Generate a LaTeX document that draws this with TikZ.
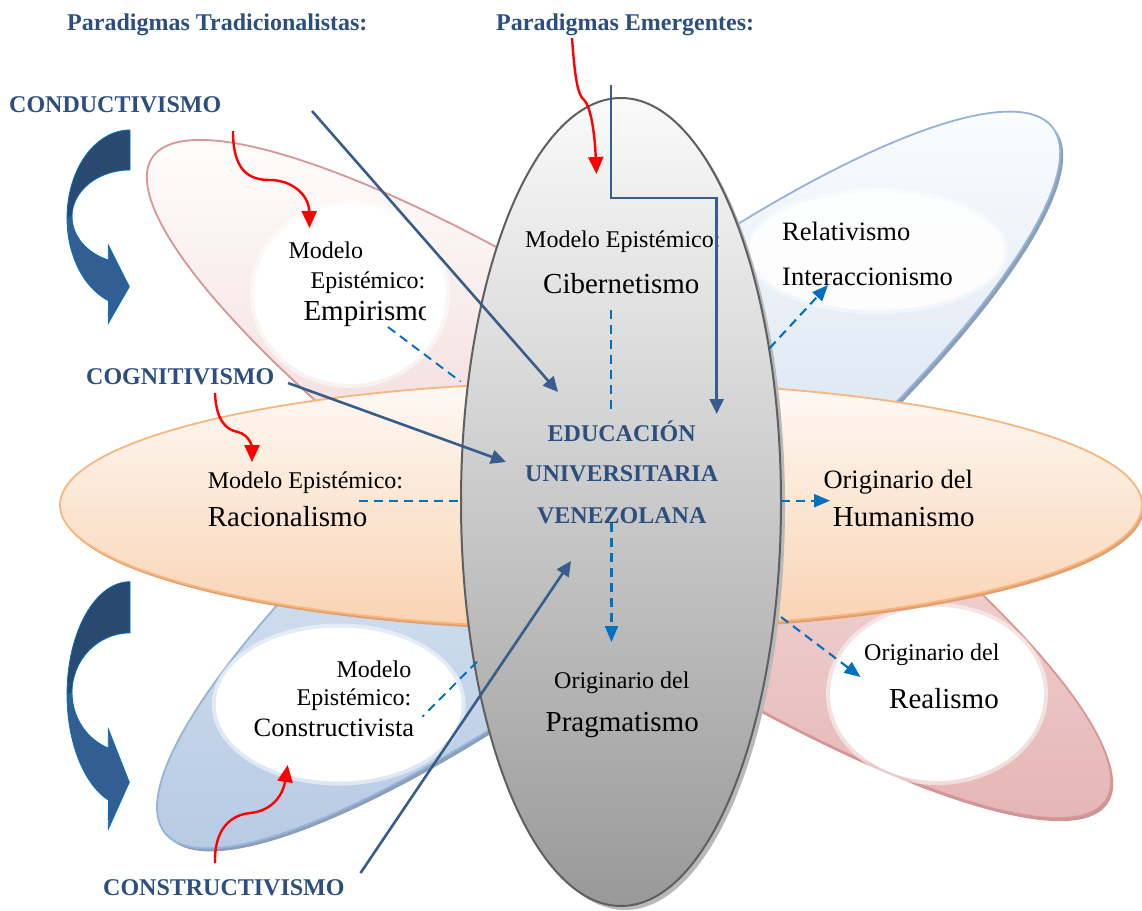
\documentclass[tikz,border=0pt]{standalone}
\usepackage{fontspec}
\setmainfont{Liberation Serif}
\usetikzlibrary{arrows.meta}
\definecolor{ttl}{RGB}{44,79,128}
\definecolor{barrow}{RGB}{56,93,140}
\definecolor{dblue}{RGB}{0,112,192}
\definecolor{cadark}{RGB}{42,73,112}
\definecolor{calight}{RGB}{51,94,145}
\definecolor{caline}{RGB}{0,112,192}
\definecolor{blshadow}{RGB}{140,158,186}
\definecolor{blline}{RGB}{149,179,215}
\definecolor{bltop}{RGB}{250,252,254}
\definecolor{blmid}{RGB}{228,236,246}
\definecolor{blbot}{RGB}{183,203,228}
\definecolor{pkshadow}{RGB}{200,150,150}
\definecolor{pkline}{RGB}{217,150,148}
\definecolor{pktop}{RGB}{255,253,253}
\definecolor{pkmid}{RGB}{246,229,229}
\definecolor{pkbot}{RGB}{229,182,181}
\definecolor{orshadow}{RGB}{226,160,112}
\definecolor{orline}{RGB}{247,182,124}
\definecolor{ortop}{RGB}{254,249,245}
\definecolor{orbot}{RGB}{249,211,178}
\definecolor{grshadow}{RGB}{185,185,185}
\definecolor{grline}{RGB}{95,95,95}
\definecolor{grtop}{RGB}{250,250,250}
\definecolor{grmid}{RGB}{218,218,218}
\definecolor{grbot}{RGB}{153,153,153}
\begin{document}
\begin{tikzpicture}[x=1pt,y=-1pt,
  ttlfont/.style={font=\fontsize{24}{28}\selectfont\bfseries, text=ttl, inner sep=0pt},
  txta/.style={font=\fontsize{24}{28}\selectfont, inner sep=0pt},
  txtb/.style={font=\fontsize{26.5}{30}\selectfont, inner sep=0pt},
  txtc/.style={font=\fontsize{29}{33}\selectfont, inner sep=0pt},
  solidarrow/.style={draw=barrow, line width=2.6pt, -{Triangle[length=15pt,width=14pt]}},
  redarrow/.style={draw=red, line width=2.4pt, -{Triangle[length=17pt,width=15pt]}},
  dasharrow/.style={draw=dblue, line width=2.1pt, dash pattern=on 9pt off 6pt, -{Triangle[length=16pt,width=13pt]}},
  dashline/.style={draw=dblue, line width=1.9pt, dash pattern=on 9pt off 6pt},
  bubble/.style={fill=white},
  cadarkband/.style={fill=cadark, draw=caline, line width=0.8pt},
  calightband/.style={fill=calight, draw=caline, line width=0.8pt}]
\useasboundingbox (0,0) rectangle (1142,910);
\fill[white] (0,0) rectangle (1142,910);

% ---------- blue tilted ellipse ----------
\fill[blshadow] plot[domain=0:360,samples=181,variable=\t]
  ({611.6+567*cos(\t)*cos(-38.5)-135*sin(\t)*sin(-38.5)},{483+567*cos(\t)*sin(-38.5)+135*sin(\t)*cos(-38.5)}) -- cycle;
\path[draw=blline, line width=1.8pt, top color=bltop, middle color=blmid, bottom color=blbot]
  plot[domain=0:360,samples=181,variable=\t]
  ({608.6+567*cos(\t)*cos(-38.5)-135*sin(\t)*sin(-38.5)},{480+567*cos(\t)*sin(-38.5)+135*sin(\t)*cos(-38.5)}) -- cycle;

% ---------- pink tilted ellipse ----------
\fill[pkshadow] plot[domain=0:360,samples=181,variable=\t]
  ({631+575*cos(\t)*cos(34)-130*sin(\t)*sin(34)},{482+575*cos(\t)*sin(34)+130*sin(\t)*cos(34)}) -- cycle;
\path[draw=pkline, line width=1.8pt, top color=pktop, middle color=pkmid, bottom color=pkbot]
  plot[domain=0:360,samples=181,variable=\t]
  ({629+575*cos(\t)*cos(34)-130*sin(\t)*sin(34)},{479+575*cos(\t)*sin(34)+130*sin(\t)*cos(34)}) -- cycle;

% ---------- white bubbles ----------
\fill[white, opacity=0.5] (350,294) ellipse [x radius=100, y radius=94];
\fill[bubble] (350,294) ellipse [x radius=96, y radius=90];
\fill[white, opacity=0.5] (338.7,704.5) ellipse [x radius=127, y radius=81];
\fill[bubble] (338.7,704.5) ellipse [x radius=123, y radius=77];
\fill[white, opacity=0.45] (877,251) ellipse [x radius=131, y radius=63];
\fill[white, opacity=0.85] (877,251) ellipse [x radius=127.5, y radius=59];
\fill[white, opacity=0.5] (937,694) ellipse [x radius=111, y radius=91];
\fill[bubble] (937,694) ellipse [x radius=107, y radius=87];

% ---------- orange horizontal ellipse ----------
\fill[orshadow] (603,508) ellipse [x radius=541, y radius=123];
\path[draw=orline, line width=1.8pt, top color=ortop, bottom color=orbot]
  (601,505) ellipse [x radius=541, y radius=123];

% ---------- central gray ellipse ----------
\fill[grshadow] (625,506) ellipse [x radius=160, y radius=404];
\path[draw=grline, line width=2pt, top color=grtop, middle color=grmid, bottom color=grbot]
  (621,502) ellipse [x radius=160, y radius=404];

% ---------- curved block arrows ----------
\begin{scope}[shift={(0,130)}]
  \path[cadarkband] (130,0) arc[start angle=-90, end angle=-180, x radius=63, y radius=88]
    -- (72,86.7) arc[start angle=180, end angle=270, x radius=58, y radius=46.7] -- cycle;
  \path[calightband] (67,88) arc[start angle=180, end angle=110, x radius=63, y radius=88]
    -- (108.3,193.3) -- (129.3,156.7) -- (108.3,115) -- (108.3,130)
    arc[start angle=112, end angle=180, x radius=58, y radius=46.7] -- cycle;
\end{scope}
\begin{scope}[shift={(0,581.7)}, yscale=1.28]
  \path[cadarkband] (130,0) arc[start angle=-90, end angle=-180, x radius=63, y radius=88]
    -- (72,86.7) arc[start angle=180, end angle=270, x radius=58, y radius=46.7] -- cycle;
  \path[calightband] (67,88) arc[start angle=180, end angle=110, x radius=63, y radius=88]
    -- (108.3,193.3) -- (129.3,156.7) -- (108.3,115) -- (108.3,130)
    arc[start angle=112, end angle=180, x radius=58, y radius=46.7] -- cycle;
\end{scope}

% ---------- texts ----------
\node[ttlfont, anchor=base west] (trad) at (67,30) {Paradigmas Tradicionalistas:};
\node[ttlfont, anchor=base west] (emer) at (496,30) {Paradigmas Emergentes:};
\node[ttlfont, anchor=base west] (cond) at (9,112) {CONDUCTIVISMO};
\node[ttlfont, anchor=base west] (cogn) at (86,384) {COGNITIVISMO};
\node[ttlfont, anchor=base west] (cons) at (103,895) {CONSTRUCTIVISMO};

\node[ttlfont, anchor=base] (edu1) at (621.7,441) {EDUCACIÓN};
\node[ttlfont, anchor=base] (edu2) at (621.7,481.7) {UNIVERSITARIA};
\node[ttlfont, anchor=base] (edu3) at (621.7,523.3) {VENEZOLANA};

\node[txta, anchor=base west] (cibm) at (525,247) {Modelo Epistémico:};
\node[txtc, anchor=base west] (cib) at (543,293) {Cibernetismo};

\node[txtb, anchor=base west] (rel) at (782,240) {Relativismo};
\node[txtb, anchor=base west] (inter) at (782,285.5) {Interaccionismo};

\node[txta, anchor=base west] (empm1) at (288.3,258.3) {Modelo};
\node[txta, anchor=base east] (empm2) at (425.5,288.3) {Epistémico:};
\begin{scope}
  \clip (250,290) rectangle (425.5,340);
  \node[txtc, anchor=base west] (emp) at (303.3,320.7) {Empirismo};
\end{scope}

\node[txta, anchor=base west] (racm) at (207.6,488.3) {Modelo Epistémico:};
\node[txtc, anchor=base west] (rac) at (207.6,526.7) {Racionalismo};

\node[txtb, anchor=base west] (humo) at (823.3,488) {Originario del};
\node[txtc, anchor=base west] (hum) at (832.7,526.7) {Humanismo};

\node[txta, anchor=base east] (conm1) at (411.5,677.7) {Modelo};
\node[txta, anchor=base east] (conm2) at (411.5,705.7) {Epistémico:};
\node[txtb, anchor=base east] (con) at (414.4,736.7) {Constructivista};

\node[txta, anchor=base west] (prago) at (554,688.3) {Originario del};
\node[txtc, anchor=base west] (prag) at (545.5,731.7) {Pragmatismo};

\node[txta, anchor=base west] (realo) at (864,660) {Originario del};
\node[txtc, anchor=base west] (real) at (889,708.3) {Realismo};

% ---------- connector end points ----------
\coordinate (r1s) at (233,131);  \coordinate (r1e) at (309.5,228);
\coordinate (r2s) at (572,38);   \coordinate (r2e) at (596.5,174);
\coordinate (r3s) at (215,393);  \coordinate (r3e) at (252,462);
\coordinate (r4s) at (215,863);  \coordinate (r4e) at (287.7,765);
\coordinate (b1s) at (312,111);  \coordinate (b1e) at (558,392);
\coordinate (b2s) at (288,383);  \coordinate (b2e) at (506,462);
\coordinate (b3s) at (360.5,873);\coordinate (b3e) at (571,561);
\coordinate (b4s) at (611,85);   \coordinate (b4e) at (716.7,414);
\coordinate (d1s) at (388,327);  \coordinate (d1e) at (460.7,381.7);
\coordinate (d2s) at (611,310);  \coordinate (d2e) at (611,414);
\coordinate (d3s) at (358.7,500.7); \coordinate (d3e) at (461.8,500.7);
\coordinate (d4s) at (781,500.7); \coordinate (d4e) at (830,500.7);
\coordinate (d5s) at (611.5,523); \coordinate (d5e) at (611.5,642);
\coordinate (d6s) at (781,617);  \coordinate (d6e) at (860.5,677);
\coordinate (d7s) at (769.5,348.3); \coordinate (d7e) at (828,285);
\coordinate (d8s) at (477,661.7); \coordinate (d8e) at (422.4,716.7);

% ---------- red curved arrows ----------
\draw[redarrow] (r1s) .. controls (233,170) and (248,180) .. (270,180)
  .. controls (292,180) and (309,195) .. (r1e);
\draw[redarrow] (r2s) .. controls (575,80) and (578,95) .. (584,100)
  .. controls (592,108) and (595,140) .. (r2e);
\draw[redarrow] (r3s) .. controls (216,420) and (226,430) .. (238,432)
  .. controls (250,435) and (252,448) .. (r3e);
\draw[redarrow] (r4s) .. controls (214,830) and (230,815) .. (250,813)
  .. controls (272,811) and (283,795) .. (r4e);

% ---------- blue solid arrows ----------
\draw[solidarrow] (b1s) -- (b1e);
\draw[solidarrow] (b2s) -- (b2e);
\draw[solidarrow] (b3s) -- (b3e);
\draw[solidarrow] (b4s) -- (611,198) -- (716.7,198) -- (b4e);

% ---------- dashed connectors ----------
\draw[dashline] (d1s) -- (d1e);
\draw[dashline] (d2s) -- (d2e);
\draw[dashline] (d3s) -- (d3e);
\draw[dasharrow] (d4s) -- (d4e);
\draw[dasharrow] (d5s) -- (d5e);
\draw[dasharrow] (d6s) -- (d6e);
\draw[dasharrow] (d7s) -- (d7e);
\draw[dashline] (d8s) -- (d8e);
\end{tikzpicture}
\end{document}
